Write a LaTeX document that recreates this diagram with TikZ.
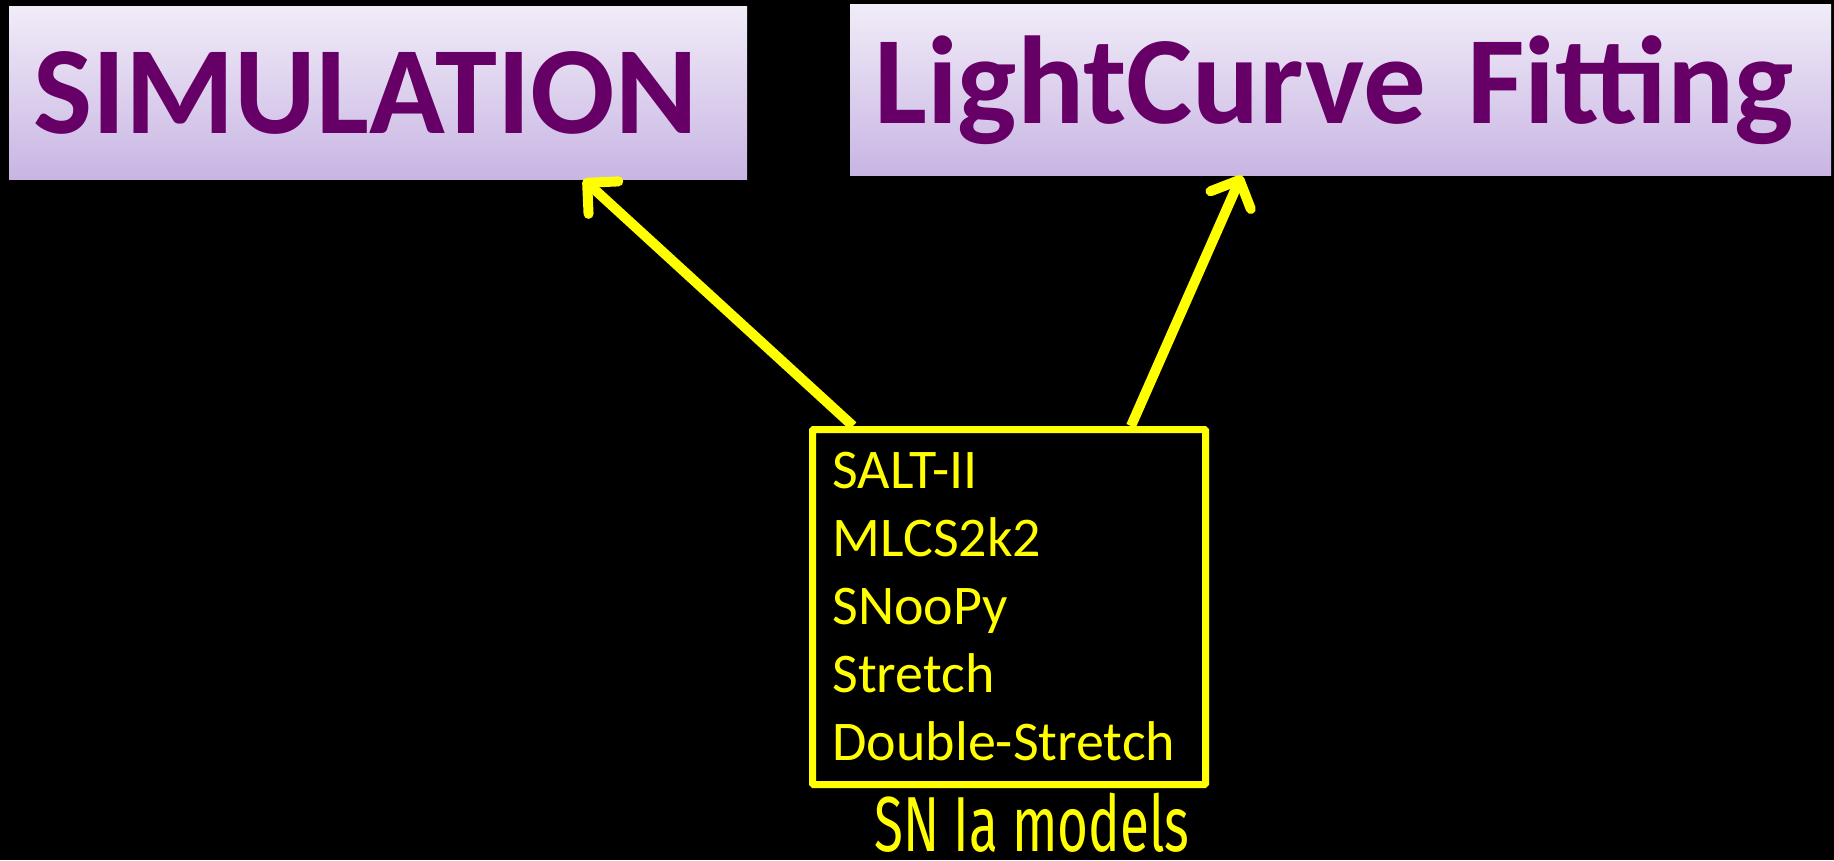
\documentclass[tikz,border=0pt]{standalone}
\usepackage{fontspec}
\setmainfont{Carlito}
\newfontfamily\handfont[FakeStretch=0.68]{Fira Sans}
\usepackage{xcolor}
\definecolor{cTitle}{HTML}{660066}
\definecolor{cTop}{HTML}{F1ECF8}
\definecolor{cBottom}{HTML}{C8B5E3}
\definecolor{cMark}{HTML}{FFFF00}
\usetikzlibrary{positioning,arrows.meta,calc}
\tikzset{
  node-title/.style={rectangle,top color=cTop,bottom color=cBottom,text=cTitle,
    anchor=north west,align=left,inner xsep=24pt,inner ysep=0pt,
    font=\fontsize{125}{130}\selectfont\bfseries},
  node-list/.style={draw=cMark,line width=7pt,rounded corners=1pt,text=cMark,
    align=left,inner xsep=20pt,inner ysep=0pt,
    font=\fontsize{56}{68}\selectfont},
  node-note/.style={text=cMark,inner sep=0pt,text depth=0pt,
    font=\handfont\fontsize{78}{78}\selectfont},
  arrow-mark/.style={-{Straight Barb[round,length=22pt,width=44pt]},
    line width=10pt,draw=cMark},
}
\begin{document}
\begin{tikzpicture}[x=1pt,y=-1pt]
  \fill[black] (0,0) rectangle (1834,860);
  \useasboundingbox (0,0) rectangle (1834,860);
  % titles
  \node[node-title,text width=690pt,minimum height=173pt] (sim) at (9,6) {\mbox{SIMULATION}};
  \node[node-title,text width=933pt,minimum height=171pt] (lcf) at (850,4) {\mbox{LightCurve Fitting}};
  % model list
  \node[node-list,text width=353pt,minimum height=355pt] (models) at (1009,607)
    {SALT-II\\MLCS2k2\\SNooPy\\Stretch\\Double-Stretch};
  \node[node-note,below=5pt of models,xshift=23pt] (note) {SN Ia models};
  \draw[arrow-mark] ($(models.north west)!0.11!(models.north east)$)
    -- ($(sim.south west)!0.778!(sim.south east)$);
  \draw[arrow-mark] ($(models.north west)!0.805!(models.north east)$)
    -- ($(lcf.south west)!0.399!(lcf.south east)$);
\end{tikzpicture}
\end{document}
